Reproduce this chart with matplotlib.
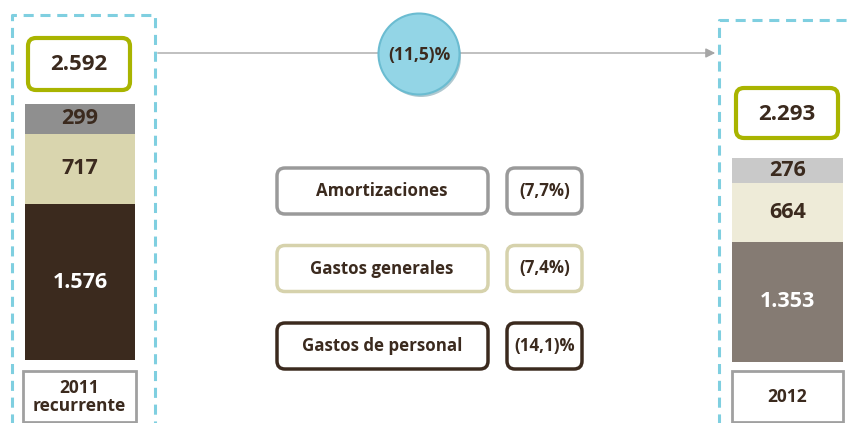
import matplotlib.pyplot as plt
from matplotlib.patches import FancyBboxPatch, Circle

plt.rcParams['font.family'] = ['Open Sans', 'DejaVu Sans']

# data
categories = ["Amortizaciones", "Gastos generales", "Gastos de personal"]
values_2011 = [299, 717, 1576]
values_2012 = [276, 664, 1353]
period_labels = ["2011\nrecurrente", "2012"]
change_labels = ["(7,7%)", "(7,4%)", "(14,1)%"]
total_change = "(11,5)%"

colors_2011 = ["#8f8f8f", "#d9d5ae", "#3b2a1e"]
colors_2012 = ["#c9c9c9", "#eeebd8", "#857b73"]
text_2011 = ["#3b2a1e", "#3b2a1e", "white"]
text_2012 = ["#3b2a1e", "#3b2a1e", "white"]
box_edges = ["#9a9a9a", "#d6d2ac", "#3b2a1e"]
DARK = "#3b2a1e"
DASH = "#7fcfe0"
GREEN = "#a9b400"

W, H = 854, 423


def fmt(v):
    return "{:,}".format(v).replace(",", ".")


def rbox(ax, x0, y0, x1, y1, ec, lw, r=8):
    p = FancyBboxPatch((x0 + r, y0 + r), x1 - x0 - 2 * r, y1 - y0 - 2 * r,
                       boxstyle="round,pad={}".format(r), fc="white", ec=ec, lw=lw)
    ax.add_patch(p)


def stacked_bar(fig, rect_px, vals, cols, tcols):
    x0, y0, x1, y1 = rect_px
    bax = fig.add_axes([x0 / W, 1 - y1 / H, (x1 - x0) / W, (y1 - y0) / H])
    bax.set_xlim(-0.5, 0.5)
    bax.set_ylim(0, sum(vals))
    bax.axis("off")
    bottom = 0
    # bottom segment is the last in the list
    for v, c, tc in zip(vals[::-1], cols[::-1], tcols[::-1]):
        cont = bax.bar(0, v, bottom=bottom, width=1, color=c, edgecolor="none")
        bax.bar_label(cont, labels=[fmt(v)], label_type="center", color=tc,
                      fontsize=15.5, fontweight="bold")
        bottom += v
    return bax


fig = plt.figure(figsize=(W / 100, H / 100), dpi=100)
ax = fig.add_axes([0, 0, 1, 1])
ax.set_xlim(0, W)
ax.set_ylim(H, 0)
ax.axis("off")

# dashed frames
dash = dict(color=DASH, lw=2.2, ls=(0, (3.3, 2.2)))
ax.plot([12, 12, 155, 155], [H + 5, 15, 15, H + 5], **dash)
ax.plot([719, 719, W + 5], [H + 5, 20, 20], **dash)

# arrow with circle
ax.annotate("", xy=(718, 53), xytext=(155, 53),
            arrowprops=dict(arrowstyle="-|>", color="#a6a6a6", lw=1, mutation_scale=14),
            zorder=1)
ax.add_patch(Circle((421, 57), 40, fc="#4f8797", ec="none", alpha=0.45, zorder=3))
ax.add_patch(Circle((419, 54), 40.5, fc="#93d5e6", ec="#6bbcd1", lw=1.5, zorder=4))
ax.text(419, 55, total_change, ha="center", va="center", fontsize=12.5,
        fontweight="bold", color=DARK, zorder=5)

# totals
rbox(ax, 28, 38, 130, 90, GREEN, 3)
ax.text(79, 65, fmt(sum(values_2011)), ha="center", va="center", fontsize=16,
        fontweight="bold", color=DARK)
rbox(ax, 736, 88, 838, 138, GREEN, 3)
ax.text(787, 114, fmt(sum(values_2012)), ha="center", va="center", fontsize=16,
        fontweight="bold", color=DARK)

# period labels
for (x0, x1), lab in zip([(23, 136), (732, 843)], period_labels):
    ax.add_patch(plt.Rectangle((x0, 371), x1 - x0, 51, fc="white", ec="#a0a0a0", lw=2))
    ax.text((x0 + x1) / 2, 397, lab, ha="center", va="center", fontsize=12.5,
            fontweight="bold", color=DARK, linespacing=1.0)

# category legend boxes
for i, (cat, ch, ec) in enumerate(zip(categories, change_labels, box_edges)):
    y0 = 168 + i * 77.5
    y1 = y0 + 46
    rbox(ax, 277, y0, 488, y1, ec, 2.5)
    ax.text(382, (y0 + y1) / 2, cat, ha="center", va="center", fontsize=12.2,
            fontweight="bold", color=DARK)
    rbox(ax, 507, y0, 582, y1, ec, 2.5)
    ax.text(544.5, (y0 + y1) / 2, ch, ha="center", va="center", fontsize=12.2,
            fontweight="bold", color=DARK)

stacked_bar(fig, (25, 104, 135, 360), values_2011, colors_2011, text_2011)
stacked_bar(fig, (732, 158, 843, 362), values_2012, colors_2012, text_2012)

fig.savefig("out.png", dpi=100)
